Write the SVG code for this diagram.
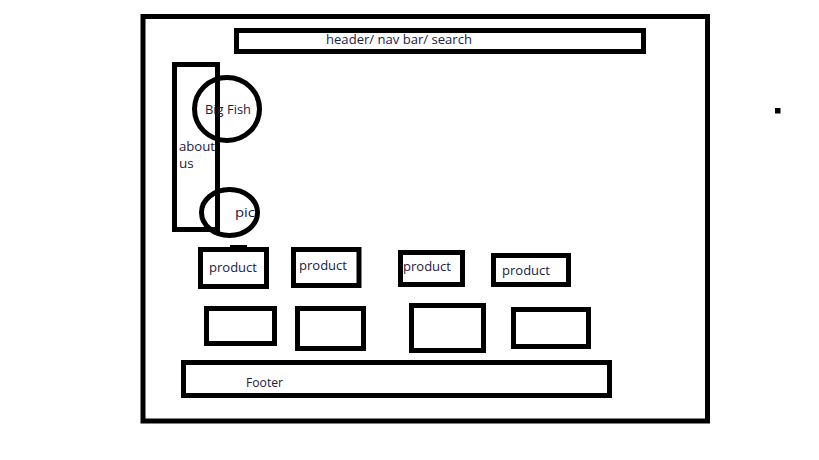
<svg xmlns="http://www.w3.org/2000/svg" width="819" height="460" viewBox="0 0 819 460">
<style>
.box{fill:none;stroke:#000;stroke-width:5}
.lbl{font-family:"Open Sans","Liberation Sans",Arial,sans-serif;font-size:13.5px;fill:#1e2040}
</style>
<rect width="819" height="460" fill="#fff"/>
<g id="page"><rect class="box" x="143" y="16.5" width="564.5" height="404.5"/></g>
<g id="header"><rect class="box" x="236.5" y="30.5" width="407" height="21"/><text class="lbl" x="326" y="44" textLength="146" lengthAdjust="spacingAndGlyphs">header/ nav bar/ search</text></g>
<g id="about"><rect class="box" x="174.5" y="64.5" width="43" height="165"/><text class="lbl" x="179" y="151" textLength="36" lengthAdjust="spacingAndGlyphs">about</text><text class="lbl" x="179" y="168">us</text></g>
<g id="bigfish"><ellipse class="box" cx="227" cy="109" rx="32.5" ry="31.5"/><text class="lbl" x="205" y="113.5" textLength="46" lengthAdjust="spacingAndGlyphs">Big Fish</text></g>
<g id="pic"><ellipse class="box" cx="229.5" cy="212.5" rx="28" ry="23"/><text class="lbl" x="235" y="217" textLength="20" lengthAdjust="spacingAndGlyphs">pic</text></g>
<g id="product1"><rect x="230" y="245" width="17" height="3" fill="#000"/><rect class="box" x="200.5" y="249.5" width="66" height="37"/><text class="lbl" x="209" y="272" textLength="48" lengthAdjust="spacingAndGlyphs">product</text></g>
<g id="product2"><rect class="box" x="293.5" y="249.5" width="65.5" height="36"/><text class="lbl" x="299" y="270" textLength="48" lengthAdjust="spacingAndGlyphs">product</text></g>
<g id="product3"><rect class="box" x="400.5" y="252.5" width="62" height="32"/><text class="lbl" x="403" y="271" textLength="48" lengthAdjust="spacingAndGlyphs">product</text></g>
<g id="product4"><rect class="box" x="493.5" y="255.5" width="75" height="29"/><text class="lbl" x="502" y="275" textLength="48" lengthAdjust="spacingAndGlyphs">product</text></g>
<g id="box1"><rect class="box" x="206.5" y="308.5" width="68" height="35"/></g>
<g id="box2"><rect class="box" x="297.5" y="308.5" width="66" height="40"/></g>
<g id="box3"><rect class="box" x="411.5" y="305.5" width="72" height="45"/></g>
<g id="box4"><rect class="box" x="513.5" y="309.5" width="75" height="37"/></g>
<g id="footer"><rect class="box" x="183.5" y="362.5" width="426" height="33"/><text class="lbl" x="246" y="387" textLength="37" lengthAdjust="spacingAndGlyphs">Footer</text></g>
<g id="dot"><rect x="775" y="108" width="5.5" height="5.5" fill="#000"/></g>
<g id="connectors"></g>
</svg>
